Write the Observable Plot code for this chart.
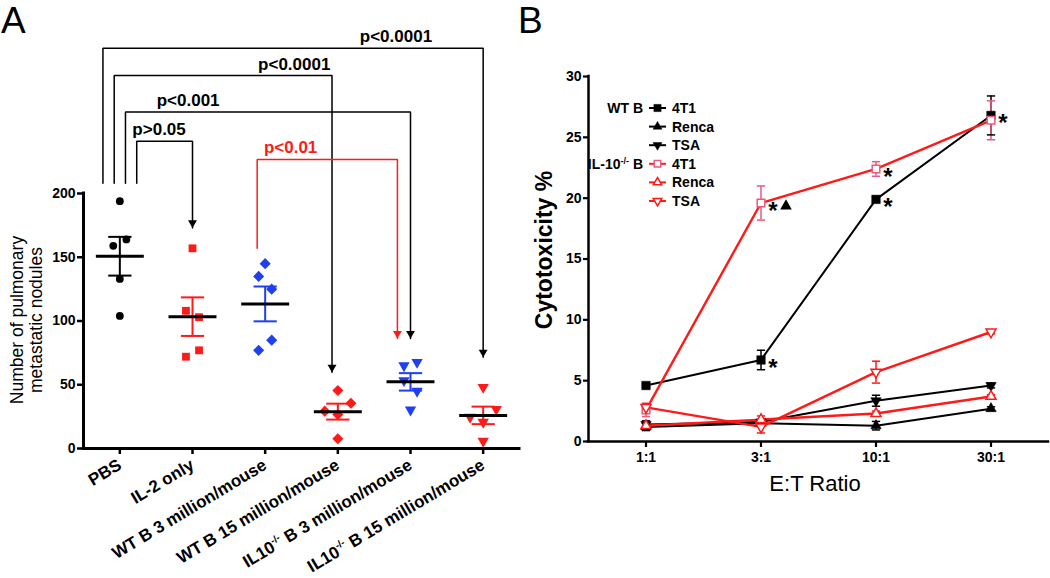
<!DOCTYPE html>
<html><head><meta charset="utf-8">
<script src="https://cdn.jsdelivr.net/npm/d3@7"></script>
<script src="https://cdn.jsdelivr.net/npm/@observablehq/plot@0.6"></script>
<style>
body{margin:0;background:#fff;font-family:"Liberation Sans",Arial,sans-serif;}
#fig{position:relative;width:1050px;height:578px;overflow:hidden;background:#fff;}
#pa,#pb{position:absolute;top:0;}
#pa{left:0;} #pb{left:530px;}
.letter{position:absolute;top:0;font-size:37px;line-height:42px;color:#000;}
</style></head>
<body>
<div id="fig">
  <div id="pa"></div>
  <div id="pb"></div>
  <div class="letter" style="left:1px;">A</div>
  <div class="letter" style="left:518px;">B</div>
</div>
<script>
// ================= DATA =================
// Panel A
const groupsA = ["PBS", "IL-2 only", "WT B 3 million/mouse", "WT B 15 million/mouse", "IL10-/- B 3 million/mouse", "IL10-/- B 15 million/mouse"];
const nodulesPBS  = [194, 164, 159, 133, 104];
const nodulesIL2  = [157, 108, 103, 77, 72];
const nodulesWT3  = [145, 135, 125, 85, 77];
const nodulesWT15 = [45.5, 35.5, 29.3, 26.7, 7.6];
const nodulesKO3  = [65, 67.7, 53.3, 45, 30.3];
const nodulesKO15 = [48, 30.8, 24.6, 20.7, 5.8];
// side on which each dot was dodged in the original scatter (-2..2)
const dodgeSide = [[0,1,-1,0,0],[0,-1,1,1,-1],[0,-1,1,1,-1],[0,2,-2,0,0],[-1,1,-1,1,0],[0,2,-2,0,0]];

// significance brackets (group indices, levels in nodule units)
const bracketFrom  = [0, 0, 0, 0, 2];
const bracketTo    = [5, 3, 4, 1, 4];
const bracketStart = [208, 208, 208, 208, 157];
const bracketLevel = [314, 292.5, 264, 241, 226.7];
const bracketTip   = [71.6, 59.8, 86.3, 173, 86.3];
const bracketLabel = ["p<0.0001", "p<0.0001", "p<0.001", "p>0.05", "p<0.01"];
const bracketLabelAt = [3.8, 2.4, 0.94, 0.54, 2.35];
const bracketRed   = [false, false, false, false, true];

// Panel B
const ratios = ["1:1", "3:1", "10:1", "30:1"];
const cellLines = ["4T1", "Renca", "TSA"];
const donors = ["WT B", "IL-10-/- B"];
const wt4T1     = [4.6, 6.7, 19.9, 26.8];
const wt4T1Err  = [0.15, 0.8, 0.2, 1.6];
const wtRenca   = [1.2, 1.5, 1.3, 2.7];
const wtRencaErr= [0.3, 0.2, 0.35, 0.15];
const wtTSA     = [1.4, 1.6, 3.35, 4.6];
const wtTSAErr  = [0.3, 0.2, 0.45, 0.2];
const ko4T1     = [2.6, 19.6, 22.4, 26.4];
const ko4T1Err  = [0.55, 1.4, 0.6, 1.6];
const koRenca   = [1.3, 1.8, 2.3, 3.7];
const koRencaErr= [0.2, 0.3, 0.2, 0.15];
const koTSA     = [2.8, 1.2, 5.7, 9.0];
const koTSAErr  = [0.3, 0.5, 0.9, 0.15];
// significance stars (series index, ratio index)
const starSeries = [0, 0, 3, 3, 0];
const starRatio  = [1, 2, 2, 1, 3];

// ================= STYLE =================
const RED = "#ff1a1a", BLUE = "#1f3ff0", PINK = "#e85a80", BLACK = "#000";
const FONT = "'Liberation Sans', Arial, sans-serif";
const triDown = {draw(ctx, size){const y=Math.sqrt(size/(Math.sqrt(3)*3));ctx.moveTo(0,2*y);ctx.lineTo(-Math.sqrt(3)*y,-y);ctx.lineTo(Math.sqrt(3)*y,-y);ctx.closePath();}};
const triUp = {draw(ctx, size){const y=Math.sqrt(size/(Math.sqrt(3)*3));ctx.moveTo(0,-2*y);ctx.lineTo(-Math.sqrt(3)*y,y);ctx.lineTo(Math.sqrt(3)*y,y);ctx.closePath();}};

// ================= PANEL A =================
const nodules = [nodulesPBS, nodulesIL2, nodulesWT3, nodulesWT15, nodulesKO3, nodulesKO15];
const groupColor = [BLACK, RED, BLUE, RED, BLUE, RED];
const groupSymbol = ["circle", "square", "diamond2", "diamond2", triDown, triDown];
const groupR = [3.9, 4.4, 5.0, 5.0, 4.2, 4.2];
const DODGE = 0.09;

const statsA = nodules.map((vals, g) => {
  const m = d3.mean(vals), se = d3.deviation(vals) / Math.sqrt(vals.length);
  return {g, m, lo: m - se, hi: m + se, color: groupColor[g]};
});

const brackets = bracketFrom.map((f, k) => ({
  k, label: bracketLabel[k], level: bracketLevel[k], labelAt: bracketLabelAt[k],
  color: bracketRed[k] ? RED : BLACK,
  fromX: bracketRed[k] ? f - 0.11 : f + (k - 1.5) * 0.155,
  toX: bracketRed[k] ? bracketTo[k] - 0.18 : bracketTo[k] - (bracketTo[k] === 3 ? 0.08 : 0),
  start: bracketStart[k], tip: bracketTip[k]
}));
const bracketPts = brackets.flatMap(b => [
  {id: b.k, x: b.fromX, y: b.start, color: b.color},
  {id: b.k, x: b.fromX, y: b.level, color: b.color},
  {id: b.k, x: b.toX, y: b.level, color: b.color},
  {id: b.k, x: b.toX, y: b.tip, color: b.color}
]);

const pointMarks = nodules.map((vals, g) => Plot.dot(
  vals.map((v, i) => ({x: g + dodgeSide[g][i] * DODGE, v})),
  {x: "x", y: "v", symbol: groupSymbol[g], r: groupR[g], fill: groupColor[g], stroke: "none"}
));

const plotA = Plot.plot({
  width: 530, height: 578,
  marginLeft: 83, marginRight: 11, marginTop: 193, marginBottom: 130,
  style: {fontFamily: FONT, background: "transparent", color: "#000", overflow: "visible"},
  x: {type: "linear", domain: [-0.5, 5.5], axis: null},
  y: {domain: [0, 200], axis: null},
  color: {type: "identity"},
  marks: [
    Plot.line(bracketPts, {x: "x", y: "y", z: "id", stroke: "color", strokeWidth: 1.5, strokeLinejoin: "miter"}),
    Plot.dot(brackets, {x: "toX", y: "tip", symbol: triDown, r: 3.3, fill: "color", stroke: "none", dy: -5}),
    Plot.text(brackets, {x: "labelAt", y: "level", text: "label", fill: "color", fontSize: 17, fontWeight: "bold", lineAnchor: "bottom", dy: -6, ariaLabel: "plabel"}),
    Plot.ruleX([-0.5], {y1: 0, y2: 200, strokeWidth: 3, strokeLinecap: "square"}),
    Plot.ruleY([0], {x1: -0.5, x2: 5.5, strokeWidth: 3, strokeLinecap: "square"}),
    Plot.axisY({ticks: [0, 50, 100, 150, 200], tickSize: 6, tickPadding: 2, fontSize: 14, fontWeight: "bold", strokeWidth: 2.5, label: null}),
    Plot.axisX({ticks: d3.range(6), tickFormat: i => groupsA[i], tickSize: 6, tickPadding: 9, tickRotate: -31, fontSize: 17, fontWeight: "bold", strokeWidth: 2.5, label: null, ariaLabel: "xa"}),
    ...pointMarks,
    Plot.ruleX(statsA, {x: "g", y1: "lo", y2: "hi", stroke: "color", strokeWidth: 2}),
    Plot.link(statsA, {x1: d => d.g - 0.16, x2: d => d.g + 0.16, y1: "lo", y2: "lo", stroke: "color", strokeWidth: 2}),
    Plot.link(statsA, {x1: d => d.g - 0.16, x2: d => d.g + 0.16, y1: "hi", y2: "hi", stroke: "color", strokeWidth: 2}),
    Plot.link(statsA, {x1: d => d.g - 0.33, x2: d => d.g + 0.33, y1: "m", y2: "m", stroke: BLACK, strokeWidth: 3})
  ]
});
document.getElementById("pa").appendChild(plotA);

const svgA = d3.select(plotA);
// italic p in p-values
svgA.selectAll('g[aria-label="plabel"] text').each(function() {
  const t = this.textContent; const s = d3.select(this); s.text(null);
  s.append("tspan").attr("font-style", "italic").text(t[0]);
  s.append("tspan").text(t.slice(1));
});
// superscript -/- in knock-out labels
svgA.selectAll("text").filter(function(){ return this.textContent.startsWith("IL10-/-"); }).each(function() {
  const t = this.textContent; const s = d3.select(this); s.text(null);
  s.append("tspan").text("IL10");
  s.append("tspan").attr("dy", "-7").attr("font-size", "10px").text("-/-");
  s.append("tspan").attr("dy", "7").text(t.slice(7));
});
// y-axis title
svgA.append("text")
  .attr("transform", "translate(28,320) rotate(-90)")
  .attr("text-anchor", "middle").attr("font-family", FONT).attr("font-size", 17.5).attr("fill", "#000")
  .call(t => {
    t.append("tspan").attr("x", 0).attr("dy", "-0.3em").text("Number of pulmonary");
    t.append("tspan").attr("x", 0).attr("dy", "1.12em").text("metastatic nodules");
  });

// ================= PANEL B =================
const valuesB = [wt4T1, wtRenca, wtTSA, ko4T1, koRenca, koTSA];
const errorsB = [wt4T1Err, wtRencaErr, wtTSAErr, ko4T1Err, koRencaErr, koTSAErr];
const seriesLine = [BLACK, BLACK, BLACK, RED, RED, RED];
const seriesMark = [BLACK, BLACK, BLACK, PINK, RED, RED];
const seriesSym  = ["square", triUp, triDown, "square", triUp, triDown];
const seriesFill = [BLACK, BLACK, BLACK, "#fff", "#fff", "#fff"];
const seriesR    = [4.8, 3.9, 3.9, 4.3, 3.7, 3.7];

const rowsB = valuesB.flatMap((vals, s) => vals.map((v, i) => ({s, i, v, e: errorsB[s][i], line: seriesLine[s], mark: seriesMark[s]})));
const stars = starSeries.map((s, k) => ({i: starRatio[k], v: valuesB[s][starRatio[k]]}));
const CAP = 0.036;

const plotB = Plot.plot({
  width: 520, height: 578,
  marginLeft: 58, marginRight: 2, marginTop: 76, marginBottom: 137,
  style: {fontFamily: FONT, background: "transparent", color: "#000", overflow: "visible"},
  x: {type: "linear", domain: [-0.5, 3.5], axis: null},
  y: {domain: [0, 30], axis: null},
  color: {type: "identity"},
  marks: [
    Plot.ruleX([-0.5], {y1: 0, y2: 30, strokeWidth: 2.5, strokeLinecap: "square"}),
    Plot.ruleY([0], {x1: -0.5, x2: 3.5, strokeWidth: 2.5, strokeLinecap: "square"}),
    Plot.axisY({ticks: d3.range(0, 31, 5), tickSize: 5, tickPadding: 2, fontSize: 14, fontWeight: "bold", strokeWidth: 2.2, label: null}),
    Plot.axisX({ticks: d3.range(4), tickFormat: i => ratios[i], tickSize: 6, tickPadding: 5, fontSize: 14, fontWeight: "bold", strokeWidth: 2.2, label: null}),
    ...[0, 1, 2, 3, 4, 5].map(s => Plot.line(rowsB.filter(d => d.s === s), {x: "i", y: "v", stroke: seriesLine[s], strokeWidth: s >= 3 ? 2.4 : 2})),
    Plot.ruleX(rowsB, {x: "i", y1: d => d.v - d.e, y2: d => d.v + d.e, stroke: "mark", strokeWidth: 1.5}),
    Plot.link(rowsB, {x1: d => d.i - CAP, x2: d => d.i + CAP, y1: d => d.v - d.e, y2: d => d.v - d.e, stroke: "mark", strokeWidth: 1.5}),
    Plot.link(rowsB, {x1: d => d.i - CAP, x2: d => d.i + CAP, y1: d => d.v + d.e, y2: d => d.v + d.e, stroke: "mark", strokeWidth: 1.5}),
    ...[0, 1, 2, 3, 4, 5].map(s => Plot.dot(rowsB.filter(d => d.s === s), {x: "i", y: "v", symbol: seriesSym[s], r: seriesR[s], fill: seriesFill[s], stroke: seriesMark[s], strokeWidth: s >= 3 ? 1.5 : 0.5})),
    Plot.text(stars, {x: "i", y: "v", text: () => "*", fontSize: 24, fontWeight: "bold", dx: 12, dy: 8}),
    Plot.dot([stars[3]], {x: "i", y: "v", symbol: triUp, r: 4.3, fill: BLACK, dx: 25, dy: 3})
  ]
});
document.getElementById("pb").appendChild(plotB);

const svgB = d3.select(plotB);
// axis titles
svgB.append("text").attr("transform", "translate(22,250) rotate(-90)")
  .attr("text-anchor", "middle").attr("font-family", FONT).attr("font-size", 23).attr("font-weight", "bold").attr("fill", "#000")
  .text("Cytotoxicity %");
svgB.append("text").attr("x", 285).attr("y", 491)
  .attr("text-anchor", "middle").attr("font-family", FONT).attr("font-size", 22).attr("fill", "#000")
  .text("E:T Ratio");

// legend
const legend = svgB.append("g").attr("font-family", FONT).attr("font-size", 14).attr("font-weight", "bold").attr("text-anchor", "start").attr("fill", "#000");
const symPath = (sym, r) => d3.symbol().type(typeof sym === "string" ? {square: d3.symbolSquare}[sym] : sym).size(Math.PI * r * r)();
valuesB.forEach((_, s) => {
  const y = 108 + s * 18.6;
  const row = legend.append("g").attr("transform", `translate(0,${y})`);
  if (s % 3 === 0) {
    const lab = row.append("text").attr("x", 113).attr("dy", "0.35em").attr("text-anchor", "end");
    const d = donors[s / 3];
    if (d.includes("-/-")) {
      lab.append("tspan").text("IL-10");
      lab.append("tspan").attr("dy", "-5").attr("font-size", "9px").text("-/-");
      lab.append("tspan").attr("dy", "5").text(" B");
    } else lab.text(d);
  }
  row.append("line").attr("x1", 119).attr("x2", 136).attr("stroke", seriesLine[s]).attr("stroke-width", 2);
  row.append("path").attr("transform", "translate(127.5,0)").attr("d", symPath(seriesSym[s], seriesR[s] * 0.85))
    .attr("fill", seriesFill[s]).attr("stroke", seriesMark[s]).attr("stroke-width", s >= 3 ? 1.5 : 0.5);
  row.append("text").attr("x", 142).attr("dy", "0.35em").attr("text-anchor", "start").text(cellLines[s % 3]);
});
</script>
</body></html>
